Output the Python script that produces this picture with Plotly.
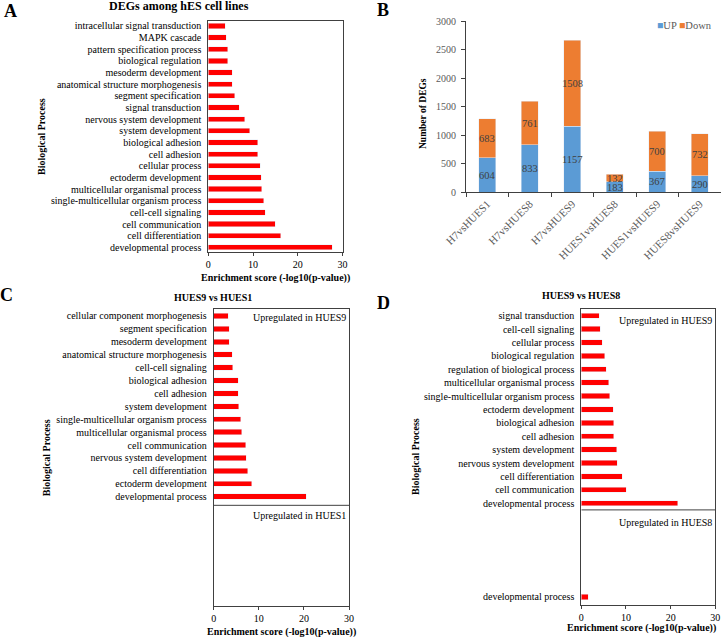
import plotly.graph_objects as go

W, H = 721, 637
FONT = "Liberation Serif, Times New Roman, serif"
RED = "#FF0000"
BLUE = "#5B9BD5"
ORANGE = "#ED7D31"
LINE = "#404040"

# ---------------- data ----------------
# Panel A (listed top -> bottom)
a_terms = ["intracellular signal transduction", "MAPK cascade", "pattern specification process",
           "biological regulation", "mesoderm development", "anatomical structure morphogenesis",
           "segment specification", "signal transduction", "nervous system development",
           "system development", "biological adhesion", "cell adhesion", "cellular process",
           "ectoderm development", "multicellular organismal process",
           "single-multicellular organism process", "cell-cell signaling", "cell communication",
           "cell differentiation", "developmental process"]
a_values = [3.8, 4.0, 4.4, 4.4, 5.4, 5.4, 5.9, 6.9, 8.1, 9.3, 11.1, 11.1, 11.6, 11.8, 12.0,
            12.4, 12.7, 15.0, 16.2, 27.7]

# Panel B
b_categories = ["H7vsHUES1", "H7vsHUES8", "H7vsHUES9", "HUES1vsHUES8", "HUES1vsHUES9", "HUES8vsHUES9"]
b_up = [604, 833, 1157, 183, 367, 290]
b_down = [683, 761, 1508, 132, 700, 732]

# Panel C (HUES9 vs HUES1), upregulated in HUES9 (top -> bottom)
c_terms = ["cellular component morphogenesis", "segment specification", "mesoderm development",
           "anatomical structure morphogenesis", "cell-cell signaling", "biological adhesion",
           "cell adhesion", "system development", "single-multicellular organism process",
           "multicellular organismal process", "cell communication", "nervous system development",
           "cell differentiation", "ectoderm development", "developmental process"]
c_values = [3.2, 3.4, 3.5, 4.1, 4.2, 5.4, 5.4, 5.5, 6.0, 6.2, 7.1, 7.2, 7.5, 8.4, 20.5]

# Panel D (HUES9 vs HUES8), upregulated in HUES9 (top -> bottom)
d_terms = ["signal transduction", "cell-cell signaling", "cellular process", "biological regulation",
           "regulation of biological process", "multicellular organismal process",
           "single-multicellular organism process", "ectoderm development", "biological adhesion",
           "cell adhesion", "system development", "nervous system development",
           "cell differentiation", "cell communication", "developmental process"]
d_values = [4.0, 4.2, 4.7, 5.2, 5.6, 6.2, 6.4, 7.2, 7.3, 7.3, 7.9, 8.1, 9.2, 10.1, 21.6]
# upregulated in HUES8
d_lower_terms = ["developmental process"]
d_lower_values = [1.6]

x_ticks = [0, 10, 20, 30]


def px(x):
    return x / W


def py(y):
    return 1 - y / H


def slots(n):
    # top item gets the highest slot, bottom item slot 0
    return [n - 1 - i for i in range(n)]


fig = go.Figure()

# A
a_pos = slots(len(a_terms))
fig.add_trace(go.Bar(x=a_values, y=a_pos, orientation="h", marker_color=RED, width=0.45,
                     xaxis="x", yaxis="y", showlegend=False))
# B
for name, vals, col in (("UP", b_up, BLUE), ("Down", b_down, ORANGE)):
    fig.add_trace(go.Bar(x=b_categories, y=vals, name=name, marker_color=col, width=0.4,
                         textposition="none", xaxis="x2", yaxis="y2", showlegend=False))
# value labels centred in each stacked segment
for cat, up, down in zip(b_categories, b_up, b_down):
    for val, base in ((up, 0), (down, up)):
        fig.add_annotation(x=cat, y=base + val / 2, xref="x2", yref="y2", text=str(val),
                           showarrow=False, borderpad=0,
                           font=dict(family=FONT, size=10.5, color="#404040"))

# C
c_pos = slots(len(c_terms))
fig.add_trace(go.Bar(x=c_values, y=c_pos, orientation="h", marker_color=RED, width=0.42,
                     xaxis="x3", yaxis="y3", showlegend=False))
# D
d_pos = slots(len(d_terms))
D_LOWER_OFFSET = 7
d_lower_pos = [-D_LOWER_OFFSET - i for i in range(len(d_lower_terms))]
fig.add_trace(go.Bar(x=d_values, y=d_pos, orientation="h", marker_color=RED, width=0.4,
                     xaxis="x4", yaxis="y4", showlegend=False))
fig.add_trace(go.Bar(x=d_lower_values, y=d_lower_pos, orientation="h", marker_color=RED, width=0.4,
                     xaxis="x4", yaxis="y4", showlegend=False))

tickfont = dict(family=FONT, size=10, color="#000000")


def enr_x(domain, anchor):
    return dict(domain=domain, anchor=anchor, range=[0, 30], tickvals=x_ticks, ticks="outside",
                ticklen=3, tickcolor=LINE, showline=True, linecolor=LINE, linewidth=1, mirror=True,
                showgrid=False, zeroline=False, tickfont=tickfont, automargin=False)


def term_y(domain, anchor, rng, vals, text):
    return dict(domain=domain, anchor=anchor, range=rng, tickvals=vals, ticktext=text, ticks="",
                showline=True, linecolor=LINE, linewidth=1, mirror=True, showgrid=False,
                zeroline=False, tickfont=tickfont, ticklabelstandoff=4, automargin=False)


fig.update_layout(
    width=W, height=H, margin=dict(l=0, r=0, t=0, b=0, autoexpand=False),
    paper_bgcolor="white", plot_bgcolor="white",
    font=dict(family=FONT, size=10, color="#000000"),
    barmode="stack", bargap=0.6,
    xaxis=enr_x([px(208.3), px(342.5)], "y"),
    yaxis=term_y([py(252), py(20.7)], "x", [-0.4, 19.45], a_pos, a_terms),
    xaxis2=dict(domain=[px(466), 1.0], anchor="y2", type="category", tickangle=-45,
                showline=True, linecolor=LINE, linewidth=1, ticks="outside", tickson="boundaries",
                ticklen=4, tickcolor=LINE, showgrid=False, automargin=False,
                tickfont=dict(family=FONT, size=11, color="#595959")),
    yaxis2=dict(domain=[py(192.3), py(21)], anchor="x2", range=[0, 3000], dtick=500,
                showline=True, linecolor=LINE, linewidth=1, ticks="outside", ticklen=4,
                tickcolor=LINE, showgrid=False, zeroline=False, automargin=False,
                ticklabelstandoff=3,
                tickfont=dict(family=FONT, size=10, color="#595959")),
    xaxis3=enr_x([px(213.7), px(349)], "y3"),
    yaxis3=term_y([py(606), py(309)], "x3", [-8.47, 14.54], c_pos, c_terms),
    xaxis4=enr_x([px(581.3), px(715.3)], "y4"),
    yaxis4=term_y([py(605), py(309)], "x4", [-7.6, 14.5], d_pos + d_lower_pos, d_terms + d_lower_terms),
)

# divider lines between up/down sections
fig.add_shape(type="line", xref="x3", yref="y3", x0=0, x1=30, y0=-0.67, y1=-0.67,
              line=dict(color=LINE, width=1))
fig.add_shape(type="line", xref="x4", yref="y4", x0=0, x1=30, y0=-0.5, y1=-0.5,
              line=dict(color=LINE, width=1))


def ann(text, x, y, size=10, bold=False, xanchor="center", yanchor="middle", angle=0, color="#000000"):
    t = f"<b>{text}</b>" if bold else text
    fig.add_annotation(text=t, x=px(x), y=py(y), xref="paper", yref="paper", showarrow=False,
                       xanchor=xanchor, yanchor=yanchor, textangle=angle, borderpad=0,
                       font=dict(family=FONT, size=size, color=color))


# panel letters
ann("A", 10, 11, size=18, bold=True)
ann("B", 383, 10, size=18, bold=True)
ann("C", 7, 295, size=18, bold=True)
ann("D", 383, 303, size=18, bold=True)

# titles
ann("DEGs among hES cell lines", 178.7, 6, size=12, bold=True)
ann("HUES9 vs HUES1", 213.3, 297.7, size=10, bold=True)
ann("HUES9 vs HUES8", 580.8, 295, size=10, bold=True)

# axis titles
ann("Enrichment score (-log10(p-value))", 275.5, 278, size=10, bold=True)
ann("Enrichment score (-log10(p-value))", 281, 631.5, size=10, bold=True)
ann("Enrichment score (-log10(p-value))", 641, 627.5, size=10, bold=True)
ann("Biological Process", 42, 137, size=10, bold=True, angle=-90)
ann("Biological Process", 46.7, 457.5, size=10, bold=True, angle=-90)
ann("Biological Process", 415, 457, size=10, bold=True, angle=-90)
ann("Number of DEGs", 423, 114, size=9.5, bold=True, angle=-90)

# section labels
ann("Upregulated in HUES9", 346.7, 317, xanchor="right")
ann("Upregulated in HUES1", 346.7, 515, xanchor="right")
ann("Upregulated in HUES9", 712.7, 320.7, xanchor="right")
ann("Upregulated in HUES8", 712.7, 522, xanchor="right")

# legend for B
ann(f"<span style='color:{BLUE}'>■</span>UP <span style='color:{ORANGE}'>■</span>Down",
    656, 25, size=10.5, xanchor="left", color="#595959")

fig.write_html("out.html", config={"displayModeBar": False},
               post_script="document.body.style.margin='0';document.body.style.overflow='hidden';")
